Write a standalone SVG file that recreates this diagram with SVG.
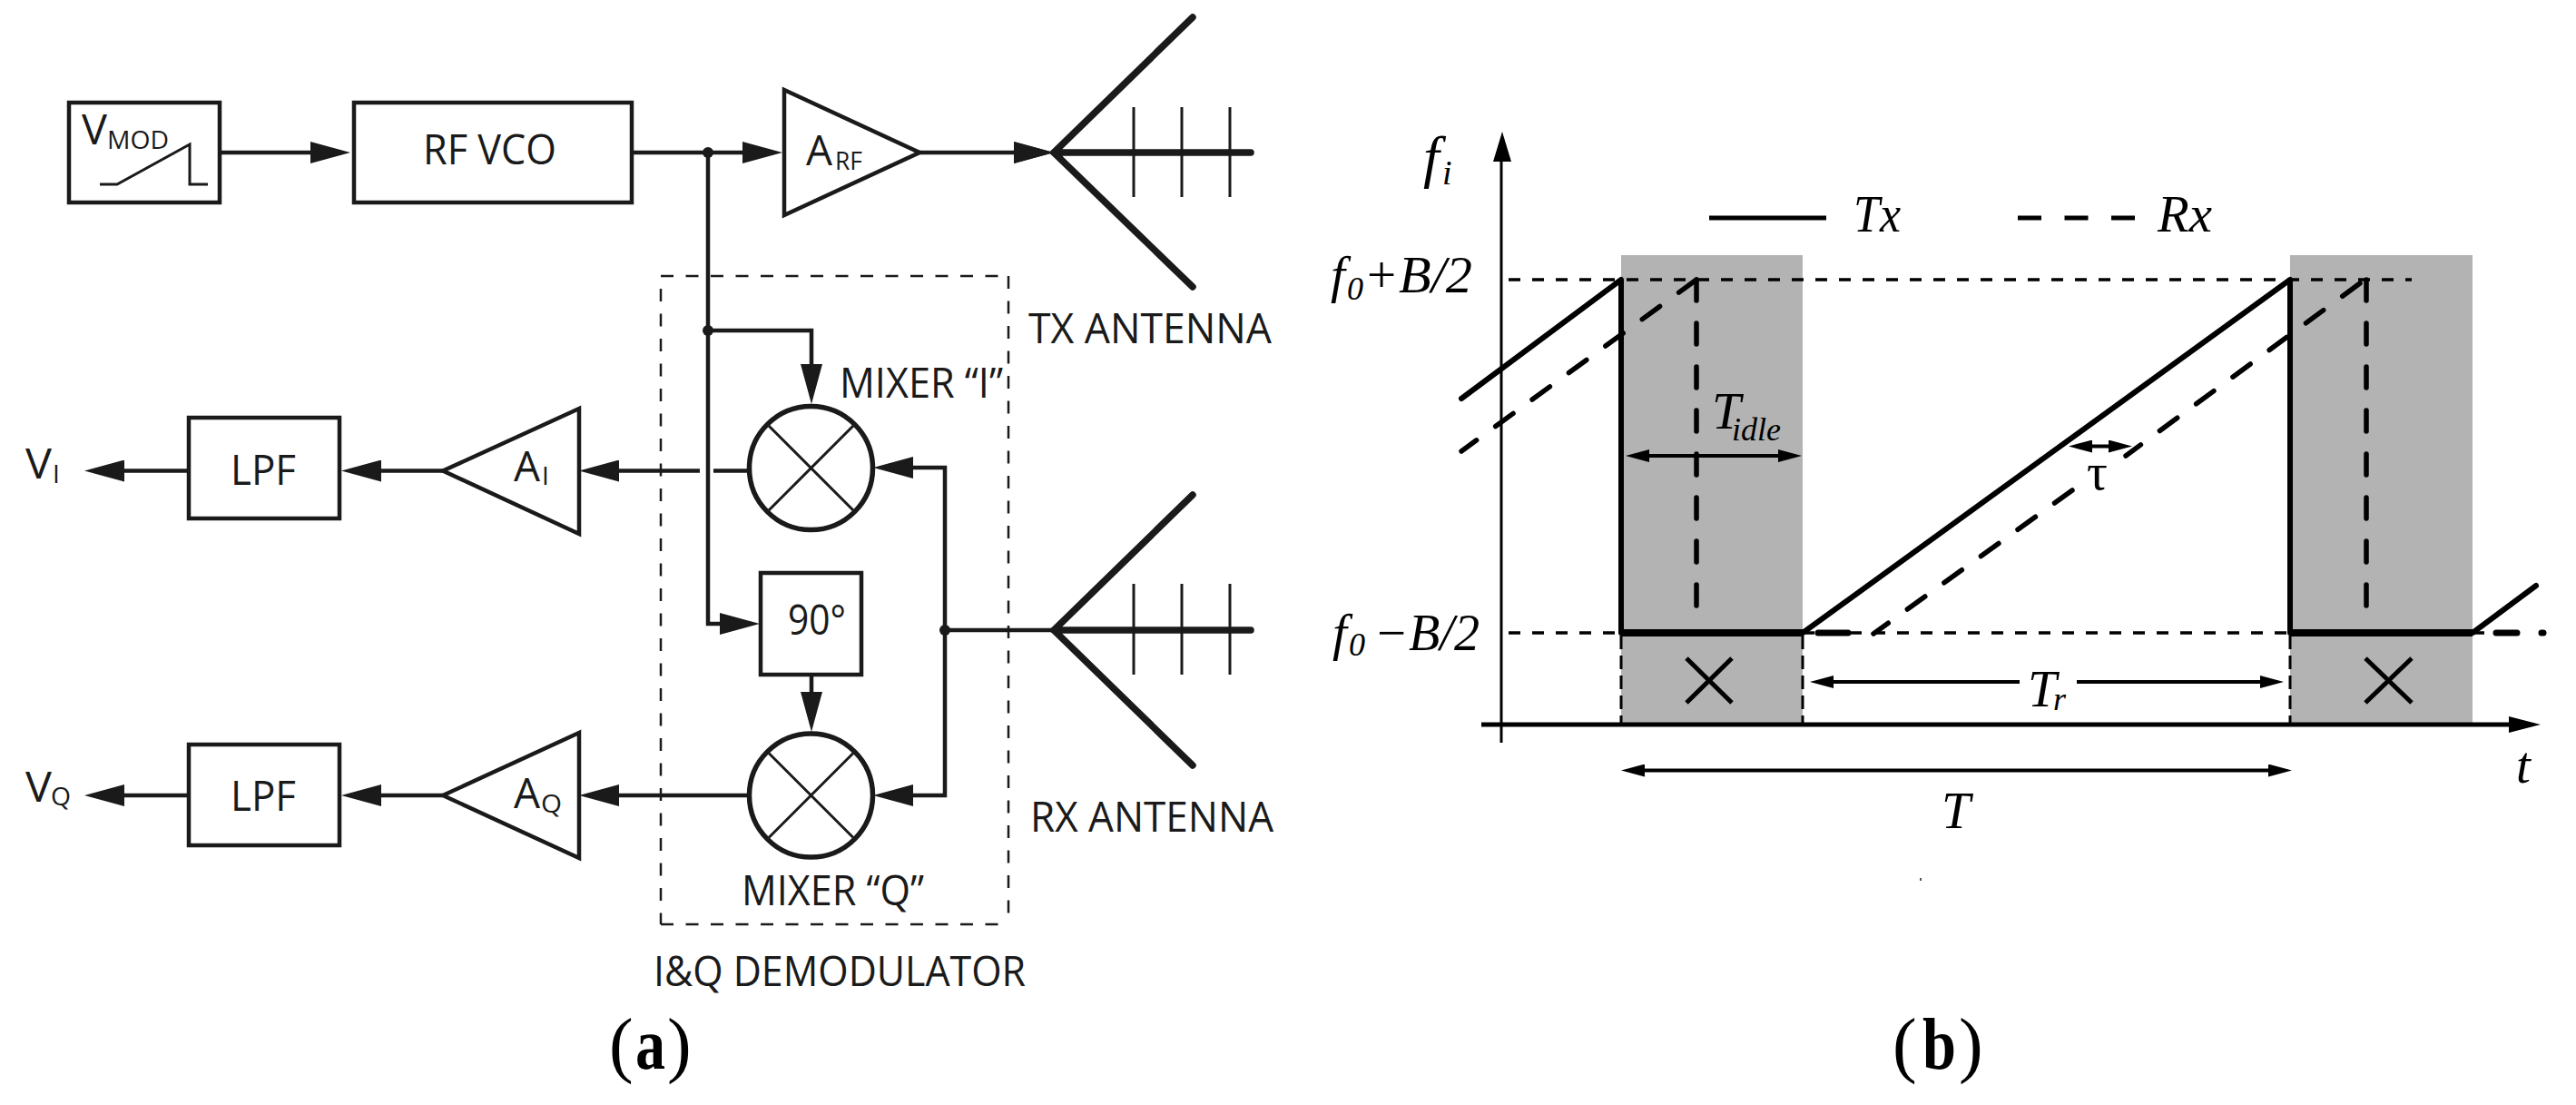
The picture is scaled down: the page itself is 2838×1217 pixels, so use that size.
<svg xmlns="http://www.w3.org/2000/svg" width="2838" height="1217" viewBox="0 0 2838 1217">
<defs>
<marker id="ah" markerUnits="userSpaceOnUse" markerWidth="44" markerHeight="24" refX="20" refY="12" orient="auto-start-reverse"><path d="M0 0L44 12L0 24Z" fill="#1a1a1a"/></marker>
<marker id="sh" markerUnits="userSpaceOnUse" markerWidth="26" markerHeight="14" refX="13" refY="7" orient="auto-start-reverse"><path d="M0 0L26 7L0 14Z" fill="#000"/></marker>
</defs>
<style>
.box{fill:#fff;stroke:#1a1a1a;stroke-width:4.5}
.w{fill:none;stroke:#1a1a1a;stroke-width:4.5}
.a{marker-end:url(#ah)}
.thin{fill:none;stroke:#1a1a1a;stroke-width:2.5}
.tick{fill:none;stroke:#1a1a1a;stroke-width:3}
.ant{fill:none;stroke:#1a1a1a;stroke-width:7.5;stroke-linecap:round}
.dot{fill:#1a1a1a}
.lab{font-family:"Open Sans","Liberation Sans",sans-serif;font-size:46px;fill:#1a1a1a}
.sub{font-size:28px}
.it{font-family:"Liberation Serif",serif;font-style:italic;font-size:57px;fill:#000}
.it2{font-size:36px}
.cap{font-family:"Liberation Serif",serif;font-size:80px;fill:#000}
.k{fill:none;stroke:#000;stroke-width:6}
.kd{fill:none;stroke:#000;stroke-width:5.5;stroke-dasharray:24 26;stroke-linecap:round}
.vd{fill:none;stroke:#000;stroke-width:5.5;stroke-dasharray:23 25;stroke-linecap:round}
.dd{fill:none;stroke:#000;stroke-width:3.5;stroke-dasharray:13 13}
.ed{fill:none;stroke:#000;stroke-width:3;stroke-dasharray:15 7}
.ar{fill:none;stroke:#000;stroke-width:4;marker-start:url(#sh);marker-end:url(#sh)}
.g{fill:#b3b3b3}
</style>
<rect width="2838" height="1217" fill="#fff"/>
<g id="connectors">
<path class="w a" d="M242 168H362"/>
<path class="w a" d="M696 168H838"/>
<path class="w a" d="M1013 168H1137"/>
<path class="w a" d="M780 168V687H813"/>
<path class="w a" d="M780 364H894V421"/>
<path class="w a" d="M894 743V782"/>
<path class="w" d="M823 518.500H786"/>
<path class="w a" d="M771 518.500H662"/>
<path class="w a" d="M488 518.500H400"/>
<path class="w a" d="M208 518.500H117"/>
<path class="w a" d="M823 876H662"/>
<path class="w a" d="M488 876H400"/>
<path class="w a" d="M208 876H117"/>
<path class="w a" d="M1041 694V515H986"/>
<path class="w a" d="M1041 694V876H986"/>
<path class="w" d="M1041 694H1161"/>
<circle class="dot" cx="780" cy="168" r="6"/>
<circle class="dot" cx="780" cy="364" r="6"/>
<circle class="dot" cx="1041" cy="694" r="6"/>
</g>
<g id="iq-demodulator">
<path class="thin" stroke-dasharray="14 13.500" d="M728 304H1111"/>
<path class="thin" stroke-dasharray="14 13.500" d="M1111 304V1018"/>
<path class="thin" stroke-dasharray="14 13.500" d="M728 1018H1111"/>
<path class="thin" stroke-dasharray="14 13.500" d="M728 318V1018"/>
<text class="lab" x="720" y="1086" textLength="410" lengthAdjust="spacingAndGlyphs">I&amp;Q DEMODULATOR</text>
</g>
<g id="vmod">
<rect class="box" x="76" y="113" width="166" height="110"/>
<path class="tick" d="M110 203H129L209 159V203H229"/>
<text class="lab" x="90" y="159" textLength="28" lengthAdjust="spacingAndGlyphs">V</text>
<text class="lab sub" x="118" y="164" textLength="68" lengthAdjust="spacingAndGlyphs">MOD</text>
</g>
<g id="rf-vco">
<rect class="box" x="390" y="113" width="306" height="110"/>
<text class="lab" x="466" y="181" textLength="147" lengthAdjust="spacingAndGlyphs">RF VCO</text>
</g>
<g id="a-rf">
<path class="box" d="M864 99L1013 168L864 237Z"/>
<text class="lab" x="888" y="182" textLength="29" lengthAdjust="spacingAndGlyphs">A</text>
<text class="lab sub" x="920" y="187" textLength="30" lengthAdjust="spacingAndGlyphs">RF</text>
</g>
<g id="tx-antenna">
<path class="ant" d="M1314 19L1161 168L1314 316M1161 168H1378"/>
<path class="tick" d="M1249 118V217M1302 118V217M1355 118V217"/>
<path fill="#1a1a1a" d="M1117 156L1161 168L1117 180Z"/>
<text class="lab" x="1133" y="378" textLength="268" lengthAdjust="spacingAndGlyphs">TX ANTENNA</text>
</g>
<g id="rx-antenna">
<path class="ant" d="M1314 545L1161 694L1314 843M1161 694H1378"/>
<path class="tick" d="M1249 643V743M1302 643V743M1355 643V743"/>
<text class="lab" x="1135" y="916" textLength="268" lengthAdjust="spacingAndGlyphs">RX ANTENNA</text>
</g>
<g id="mixer-i">
<circle cx="893.500" cy="515.500" r="68" fill="#fff" stroke="#1a1a1a" stroke-width="5.500"/>
<path class="tick" d="M847 469L940 562M940 469L847 562"/>
<text class="lab" x="925" y="438" textLength="180" lengthAdjust="spacingAndGlyphs">MIXER “I”</text>
</g>
<g id="mixer-q">
<circle cx="893.500" cy="876" r="68" fill="#fff" stroke="#1a1a1a" stroke-width="5.500"/>
<path class="tick" d="M847 829.500L940 922.500M940 829.500L847 922.500"/>
<text class="lab" x="817" y="997" textLength="201" lengthAdjust="spacingAndGlyphs">MIXER “Q”</text>
</g>
<g id="phase-90">
<rect class="box" x="838" y="631" width="111" height="112"/>
<text class="lab" x="868" y="699" textLength="64" lengthAdjust="spacingAndGlyphs">90°</text>
</g>
<g id="a-i">
<path class="box" d="M638 450L488 518.500L638 588Z"/>
<text class="lab" x="566" y="530" textLength="29" lengthAdjust="spacingAndGlyphs">A</text>
<text class="lab sub" x="597" y="534">I</text>
</g>
<g id="a-q">
<path class="box" d="M638 807L488 876L638 945Z"/>
<text class="lab" x="566" y="890" textLength="29" lengthAdjust="spacingAndGlyphs">A</text>
<text class="lab sub" x="596" y="895" textLength="23" lengthAdjust="spacingAndGlyphs">Q</text>
</g>
<g id="lpf-i">
<rect class="box" x="208" y="460" width="166" height="111"/>
<text class="lab" x="254" y="534" textLength="72" lengthAdjust="spacingAndGlyphs">LPF</text>
</g>
<g id="lpf-q">
<rect class="box" x="208" y="820" width="166" height="111"/>
<text class="lab" x="254" y="893" textLength="72" lengthAdjust="spacingAndGlyphs">LPF</text>
</g>
<g id="v-i"><text class="lab" x="28" y="527" textLength="29" lengthAdjust="spacingAndGlyphs">V</text><text class="lab sub" x="58" y="532">I</text></g>
<g id="v-q"><text class="lab" x="28" y="883" textLength="29" lengthAdjust="spacingAndGlyphs">V</text><text class="lab sub" x="56" y="887" textLength="22" lengthAdjust="spacingAndGlyphs">Q</text></g>
<text class="cap" y="1177"><tspan x="671">(</tspan><tspan x="700" font-weight="bold" textLength="33" lengthAdjust="spacingAndGlyphs">a</tspan><tspan x="735">)</tspan></text>

<g id="chart">
<rect class="g" x="1786" y="281" width="200" height="516"/>
<rect class="g" x="2523" y="281" width="201" height="516"/>
<path class="dd" d="M1662 308H2657"/>
<path class="dd" d="M1662 697H1786M1986 697H2523M2724 697H2745"/>
<path class="ed" d="M1786 700V797M1986 700V797M2523 700V797"/>
<path fill="none" stroke="#000" stroke-width="3" d="M1654 160V818"/>
<path fill="#000" d="M1655 145L1665 178H1645Z"/>
<path fill="none" stroke="#000" stroke-width="5" d="M1632 798H2770"/>
<path fill="#000" d="M2799 798L2764 789V807Z"/>
<path class="k" stroke-linecap="round" stroke-linejoin="round" d="M1610 439L1786 308V697H1986L2523 308V697H2724L2794 645"/>
<path fill="none" stroke="#000" stroke-width="8" d="M1786 697H1986M2523 697H2724"/>
<path class="kd" d="M1869 308L1610 497"/>
<path class="vd" d="M1869 308V676M2607 308V676"/>
<path class="kd" d="M2600 312L2342 502"/>
<path class="kd" d="M2283 540L2064 698"/>
<path fill="none" stroke="#000" stroke-width="7" stroke-linecap="round" d="M2003 697H2036M2750 697H2773M2800 697H2802"/>
<path fill="none" stroke="#000" stroke-width="5" d="M1883 240H2012"/>
<path fill="none" stroke="#000" stroke-width="5" stroke-dasharray="26 25.500" d="M2223 240H2353"/>
<path class="ar" d="M1804 502H1972"/>
<path class="ar" d="M2292 491.500H2336"/>
<path fill="none" stroke="#000" stroke-width="4" d="M2007 751H2225M2288 751H2503"/>
<path fill="#000" d="M1994 751L2020 744V758Z"/>
<path fill="#000" d="M2516 751L2490 744V758Z"/>
<path class="ar" d="M1799 848.500H2512"/>
<path fill="none" stroke="#000" stroke-width="5" d="M1858 725L1908 774M1908 725L1858 774M2606 725L2657 774M2657 725L2606 774"/>
<rect x="2115" y="967" width="2" height="3" fill="#555"/>
<text class="it" y="194" style="font-size:64px"><tspan x="1568">f</tspan><tspan style="font-size:38px" x="1589" y="203">i</tspan></text>
<text class="it" x="2042" y="255" textLength="52" lengthAdjust="spacingAndGlyphs">Tx</text>
<text class="it" x="2377" y="255" textLength="60" lengthAdjust="spacingAndGlyphs">Rx</text>
<text class="it" y="322"><tspan x="1466">f</tspan><tspan class="it2" x="1484" y="330">0</tspan><tspan x="1506" y="322" style="font-style:normal">+</tspan><tspan x="1541" textLength="81" lengthAdjust="spacingAndGlyphs">B/2</tspan></text>
<text class="it" y="716"><tspan x="1468">f</tspan><tspan class="it2" x="1486" y="722">0</tspan><tspan x="1517" y="716" style="font-style:normal" textLength="32" lengthAdjust="spacingAndGlyphs">−</tspan><tspan x="1552" textLength="78" lengthAdjust="spacingAndGlyphs">B/2</tspan></text>
<text class="it" y="472"><tspan x="1886">T</tspan><tspan class="it2" x="1908" y="485">idle</tspan></text>
<text class="it" style="font-style:normal" x="2299" y="539">τ</text>
<text class="it" y="778"><tspan x="2234">T</tspan><tspan class="it2" x="2262" y="782">r</tspan></text>
<text class="it" x="2139" y="912">T</text>
<text class="it" x="2772" y="862">t</text>
</g>
<text class="cap" y="1177"><tspan x="2085">(</tspan><tspan x="2118" font-weight="bold" textLength="37" lengthAdjust="spacingAndGlyphs">b</tspan><tspan x="2158">)</tspan></text>
</svg>
